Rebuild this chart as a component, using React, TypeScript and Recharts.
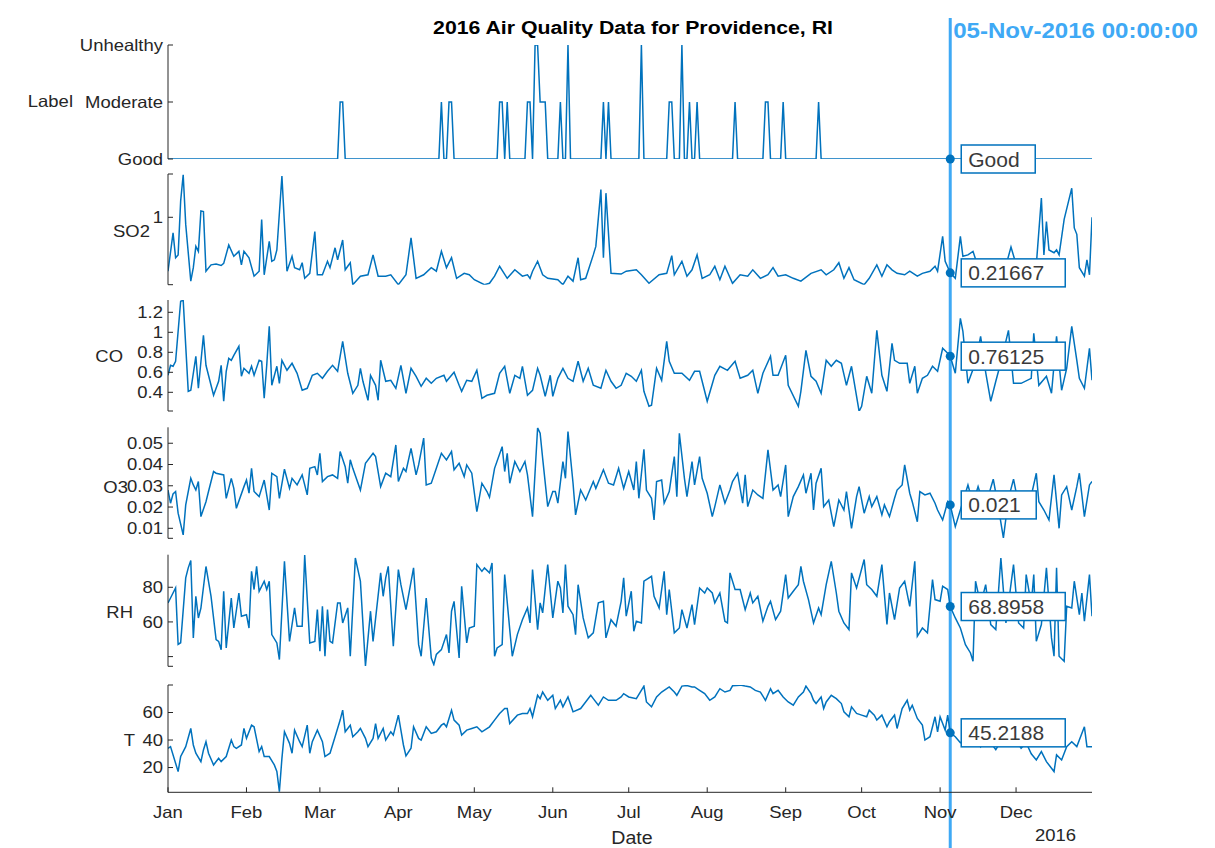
import React from 'react';
import { LineChart, Line, XAxis, YAxis, ReferenceDot, ReferenceLine } from 'recharts';

const W = 1215;
const H = 848;
const LEFT = 108;
const YW = 60;
const RIGHT = 123;
const AX = LEFT + YW;
const LINE = '#0072BD';
const AXIS = '#262626';
const CURSOR = '#3FA9F5';
const FONT = '"Liberation Sans", Arial, Helvetica, sans-serif';
const STRETCH = 1.12;

type Pt = [number, number];

const monthTicks = [0, 31, 60, 91, 121, 152, 182, 213, 244, 274, 305, 335];
const monthLabels = ['Jan', 'Feb', 'Mar', 'Apr', 'May', 'Jun', 'Jul', 'Aug', 'Sep', 'Oct', 'Nov', 'Dec'];
const cursorDay = 309;

const qualityLevels = ['Good', 'Moderate', 'Unhealthy'];
const moderateDays = [68, 69, 108, 111, 112, 131, 132, 134, 142, 143, 147, 148, 149, 155, 172, 174, 198, 199, 206, 209, 224, 236, 237, 243, 257];
const unhealthyDays = [145, 146, 158, 187, 203];

const so2Pts: Pt[] = [
  [0, 0.24], [2, 0.78], [3, 0.43], [4, 0.47], [5, 1.23], [6, 1.6], [7, 0.9], [9, 0.1], [10, 0.29], [11, 0.59], [12, 0.52],
  [13, 1.09], [14, 1.08], [15, 0.24], [17, 0.33], [19, 0.34], [21, 0.32], [22, 0.35], [24, 0.61], [26, 0.45], [28, 0.52],
  [29, 0.33], [30, 0.52], [32, 0.43], [34, 0.17], [36, 0.24], [37, 0.97], [38, 0.19], [40, 0.66], [41, 0.38], [42, 0.4],
  [43, 0.54], [45, 1.58], [47, 0.24], [49, 0.45], [50, 0.29], [52, 0.26], [53, 0.36], [54, 0.14], [56, 0.21], [58, 0.8],
  [59, 0.19], [61, 0.19], [63, 0.38], [64, 0.29], [66, 0.57], [67, 0.4], [69, 0.68], [70, 0.26], [72, 0.36], [73, 0.05],
  [76, 0.17], [79, 0.19], [81, 0.47], [83, 0.17], [86, 0.17], [88, 0.19], [91, 0.05], [94, 0.19], [96, 0.71], [98, 0.14],
  [101, 0.19], [104, 0.29], [106, 0.24], [108, 0.52], [110, 0.29], [112, 0.43], [114, 0.14], [117, 0.21], [119, 0.19],
  [121, 0.12], [125, 0.05], [127, 0.07], [129, 0.17], [131, 0.31], [134, 0.14], [137, 0.26], [140, 0.17], [142, 0.19],
  [143, 0.14], [144, 0.24], [146, 0.38], [148, 0.19], [150, 0.14], [154, 0.12], [156, 0.05], [158, 0.17], [160, 0.1],
  [162, 0.43], [163, 0.12], [165, 0.14], [168, 0.47], [169, 0.59], [171, 1.39], [172, 0.43], [173, 1.34], [175, 0.21],
  [179, 0.2], [181, 0.24], [185, 0.26], [187, 0.19], [190, 0.07], [194, 0.19], [197, 0.21], [199, 0.46], [200, 0.19],
  [203, 0.38], [205, 0.17], [207, 0.26], [209, 0.47], [211, 0.14], [214, 0.19], [216, 0.31], [218, 0.12], [220, 0.31],
  [223, 0.07], [226, 0.19], [229, 0.17], [231, 0.26], [234, 0.14], [237, 0.19], [239, 0.29], [241, 0.17], [244, 0.19],
  [247, 0.14], [250, 0.1], [254, 0.21], [258, 0.26], [260, 0.19], [263, 0.26], [265, 0.36], [267, 0.14], [269, 0.29],
  [271, 0.12], [275, 0.05], [277, 0.14], [280, 0.33], [282, 0.17], [284, 0.33], [286, 0.26], [288, 0.21], [291, 0.19],
  [293, 0.24], [296, 0.17], [298, 0.21], [301, 0.24], [303, 0.31], [304, 0.24], [306, 0.73], [307, 0.38], [309, 0.21667],
  [311, 0.14], [313, 0.73], [314, 0.45], [316, 0.47], [318, 0.52], [320, 0.3], [323, 0.35], [326, 0.28], [329, 0.38],
  [331, 0.32], [333, 0.58], [335, 0.34], [338, 0.3], [341, 0.36], [343, 0.33], [345, 1.27], [346, 0.47], [347, 0.94],
  [348, 0.54], [350, 0.5], [351, 0.54], [352, 0.47], [354, 0.97], [357, 1.41], [358, 0.85], [359, 0.76], [360, 0.29],
  [362, 0.17], [363, 0.4], [364, 0.19], [365, 1.0],
];

const coPts: Pt[] = [
  [0, 0.57], [1, 0.67], [2, 0.66], [3, 0.71], [5, 1.31], [6, 1.32], [8, 0.41], [9, 0.42], [11, 0.76], [12, 0.44], [14, 0.97],
  [15, 0.67], [17, 0.47], [18, 0.37], [20, 0.51], [21, 0.67], [22, 0.31], [23, 0.61], [24, 0.74], [25, 0.72], [26, 0.77],
  [28, 0.86], [29, 0.56], [30, 0.64], [32, 0.59], [33, 0.66], [34, 0.57], [36, 0.72], [37, 0.71], [38, 0.34], [39, 0.67],
  [40, 1.06], [41, 0.47], [43, 0.66], [44, 0.49], [45, 0.72], [47, 0.62], [49, 0.69], [51, 0.59], [53, 0.42], [55, 0.44],
  [57, 0.57], [59, 0.59], [61, 0.54], [63, 0.61], [65, 0.67], [67, 0.61], [69, 0.91], [71, 0.59], [73, 0.39], [75, 0.47],
  [76, 0.64], [77, 0.51], [79, 0.32], [80, 0.57], [82, 0.47], [83, 0.32], [84, 0.72], [86, 0.51], [88, 0.52], [90, 0.44],
  [92, 0.67], [94, 0.39], [96, 0.64], [98, 0.56], [100, 0.46], [102, 0.54], [104, 0.49], [106, 0.54], [109, 0.57],
  [110, 0.51], [113, 0.6], [115, 0.47], [116, 0.41], [118, 0.52], [120, 0.51], [122, 0.62], [124, 0.34], [126, 0.37],
  [129, 0.39], [131, 0.59], [133, 0.66], [135, 0.39], [137, 0.57], [139, 0.54], [140, 0.66], [142, 0.37], [144, 0.42],
  [146, 0.64], [147, 0.57], [149, 0.36], [151, 0.57], [152, 0.36], [154, 0.54], [156, 0.64], [158, 0.54], [160, 0.51],
  [162, 0.71], [164, 0.51], [166, 0.64], [168, 0.47], [171, 0.44], [173, 0.62], [175, 0.51], [177, 0.44], [179, 0.47],
  [181, 0.59], [183, 0.56], [185, 0.51], [187, 0.62], [188, 0.41], [190, 0.26], [191, 0.27], [193, 0.64], [195, 0.52],
  [197, 0.91], [198, 0.71], [200, 0.59], [203, 0.59], [206, 0.52], [208, 0.61], [210, 0.61], [213, 0.31], [216, 0.57],
  [218, 0.66], [221, 0.62], [224, 0.71], [226, 0.54], [229, 0.57], [231, 0.62], [233, 0.39], [235, 0.59], [238, 0.76],
  [239, 0.57], [241, 0.57], [244, 0.77], [245, 0.47], [249, 0.26], [250, 0.41], [252, 0.82], [254, 0.56], [256, 0.51],
  [258, 0.39], [260, 0.72], [262, 0.66], [264, 0.72], [266, 0.69], [268, 0.47], [270, 0.66], [273, 0.21], [274, 0.26],
  [276, 0.56], [278, 0.39], [280, 1.02], [282, 0.57], [284, 0.41], [286, 0.89], [287, 0.72], [289, 0.69], [292, 0.69],
  [293, 0.49], [295, 0.66], [296, 0.39], [298, 0.54], [300, 0.57], [302, 0.66], [304, 0.61], [306, 0.84], [308, 0.79],
  [309, 0.76125], [311, 0.59], [313, 1.14], [314, 1.01], [316, 0.49], [319, 0.7], [321, 0.96], [323, 0.6], [325, 0.31],
  [327, 0.51], [329, 0.7], [332, 1.02], [334, 0.49], [337, 0.49], [341, 0.54], [342, 0.99], [344, 0.47], [347, 0.56],
  [349, 0.39], [351, 0.96], [353, 0.42], [355, 0.64], [357, 1.06], [359, 0.72], [360, 0.54], [362, 0.44], [364, 0.84],
  [365, 0.52],
];

const o3Pts: Pt[] = [
  [0, 0.028], [1, 0.0218], [2, 0.0262], [3, 0.0273], [4, 0.0171], [6, 0.0069], [7, 0.021], [9, 0.0335], [10, 0.0304],
  [11, 0.028], [12, 0.032], [13, 0.0155], [15, 0.0225], [16, 0.0273], [18, 0.0367], [19, 0.0359], [22, 0.0351], [23, 0.0241],
  [25, 0.0335], [26, 0.0288], [27, 0.0194], [30, 0.0296], [31, 0.0327], [32, 0.0265], [33, 0.0382], [34, 0.0273], [36, 0.0249],
  [38, 0.0327], [40, 0.0186], [41, 0.0359], [43, 0.0343], [44, 0.0241], [46, 0.0378], [48, 0.0288], [49, 0.0335], [51, 0.0304],
  [53, 0.0351], [55, 0.0257], [56, 0.0382], [58, 0.039], [59, 0.0351], [60, 0.0453], [61, 0.032], [63, 0.0343], [65, 0.0351],
  [67, 0.0335], [68, 0.0461], [70, 0.039], [71, 0.0312], [72, 0.0422], [73, 0.0382], [76, 0.028], [78, 0.0406], [81, 0.0453],
  [82, 0.0437], [84, 0.0296], [86, 0.0359], [88, 0.0343], [90, 0.0492], [91, 0.032], [93, 0.0382], [94, 0.0367], [96, 0.0476],
  [98, 0.0351], [99, 0.0398], [101, 0.0524], [102, 0.0304], [104, 0.0312], [106, 0.0382], [108, 0.0453], [110, 0.0422],
  [112, 0.0461], [113, 0.0375], [115, 0.0406], [117, 0.0343], [118, 0.0398], [120, 0.0359], [122, 0.0178], [124, 0.0312],
  [126, 0.0273], [127, 0.0246], [129, 0.0382], [132, 0.0484], [133, 0.0367], [134, 0.0453], [135, 0.0312], [137, 0.0414],
  [139, 0.0367], [141, 0.0414], [142, 0.0351], [144, 0.0155], [146, 0.0572], [147, 0.0547], [148, 0.0429], [150, 0.0202],
  [152, 0.0273], [153, 0.0273], [154, 0.0218], [156, 0.0414], [157, 0.0335], [158, 0.0555], [160, 0.0312], [161, 0.0163],
  [163, 0.028], [165, 0.0233], [168, 0.032], [169, 0.0288], [172, 0.0375], [174, 0.0312], [176, 0.0304], [178, 0.0382],
  [180, 0.0288], [182, 0.0367], [184, 0.028], [185, 0.0414], [186, 0.0241], [188, 0.0472], [189, 0.028], [191, 0.0241],
  [192, 0.0139], [193, 0.032], [195, 0.0327], [196, 0.0218], [198, 0.0273], [200, 0.0437], [201, 0.0249], [202, 0.0547],
  [204, 0.0335], [205, 0.0249], [207, 0.0414], [208, 0.0304], [210, 0.0437], [211, 0.0335], [213, 0.0265], [215, 0.0155],
  [216, 0.0202], [218, 0.0304], [220, 0.0218], [222, 0.028], [223, 0.032], [225, 0.0359], [227, 0.0218], [228, 0.0351],
  [229, 0.0202], [231, 0.028], [233, 0.0257], [235, 0.0241], [237, 0.0469], [239, 0.028], [241, 0.0304], [242, 0.0249],
  [244, 0.0398], [245, 0.0155], [247, 0.0249], [249, 0.0296], [251, 0.0351], [252, 0.0265], [254, 0.0359], [255, 0.0186],
  [256, 0.0312], [258, 0.0382], [259, 0.0202], [261, 0.0233], [263, 0.0108], [265, 0.0233], [267, 0.0186], [268, 0.0273],
  [270, 0.01], [272, 0.0249], [273, 0.0296], [275, 0.0171], [277, 0.0249], [278, 0.0202], [280, 0.0249], [282, 0.0163],
  [283, 0.021], [285, 0.0155], [287, 0.0241], [288, 0.028], [290, 0.0304], [291, 0.0398], [293, 0.0265], [294, 0.0225],
  [296, 0.0131], [297, 0.0273], [299, 0.0257], [301, 0.0265], [303, 0.0218], [304, 0.0186], [306, 0.0139], [308, 0.0225],
  [309, 0.021], [311, 0.0108], [313, 0.0186], [316, 0.0304], [318, 0.0218], [320, 0.0296], [322, 0.022], [324, 0.025],
  [326, 0.0331], [328, 0.02], [330, 0.0055], [332, 0.024], [334, 0.0331], [336, 0.021], [338, 0.026], [340, 0.02],
  [343, 0.0359], [344, 0.0225], [346, 0.0186], [348, 0.0139], [350, 0.0351], [352, 0.01], [353, 0.0257], [355, 0.0296],
  [357, 0.0186], [359, 0.0296], [360, 0.0359], [362, 0.0155], [364, 0.0304], [365, 0.032],
];

const rhPts: Pt[] = [
  [0, 71], [1, 73.8], [3, 79.6], [4, 47], [5, 48], [7, 85.4], [8, 91.2], [9, 95.4], [10, 50.8], [11, 74.8], [12, 62.3],
  [13, 68], [15, 92], [17, 74.8], [19, 49.8], [20, 48.8], [21, 44], [22, 77.7], [23, 45], [25, 73.8], [26, 56.5], [28, 76.7],
  [29, 63.3], [31, 64.2], [32, 56.5], [33, 89.2], [34, 78.7], [35, 92.1], [36, 77.7], [38, 83.5], [39, 78.7], [40, 83.5],
  [41, 52.7], [43, 47.9], [44, 38.3], [46, 95], [48, 48.8], [50, 68.1], [51, 57.5], [53, 57.5], [54, 98.6], [56, 47.9],
  [58, 48.8], [59, 67.1], [60, 43.1], [61, 69], [62, 40.2], [63, 67.1], [64, 48.8], [65, 47.9], [67, 71], [68, 71],
  [69, 59.4], [71, 68.1], [72, 40.2], [74, 96.9], [76, 83.5], [78, 34.6], [80, 66.2], [81, 48.8], [84, 88.3], [85, 74.8],
  [86, 85.4], [87, 92.1], [89, 46], [91, 90.2], [92, 81.5], [94, 67.1], [97, 91.2], [99, 46.9], [100, 40.2], [102, 73.8],
  [104, 39.2], [105, 35.4], [106, 41.2], [108, 44], [110, 52.7], [111, 42.1], [112, 66.2], [113, 71.9], [115, 39.2],
  [116, 80.6], [118, 47.9], [119, 56.5], [121, 57.5], [122, 93.1], [124, 89.2], [125, 91.2], [127, 88.3], [128, 94],
  [129, 40.2], [130, 45], [132, 46.9], [133, 87.3], [135, 55.6], [136, 40.2], [138, 52.7], [140, 61.3], [142, 68.1],
  [143, 59.4], [144, 90.2], [146, 55.6], [147, 71], [148, 65.2], [150, 93.1], [152, 62.3], [154, 83.5], [155, 79.6],
  [156, 65.2], [157, 93.1], [158, 69.1], [160, 64.2], [161, 52.7], [162, 81.5], [164, 62.3], [166, 50.8], [168, 53.7],
  [170, 71], [172, 71.9], [173, 50.8], [175, 61.3], [177, 57.5], [179, 71.9], [180, 85.4], [181, 63.3], [183, 77.7],
  [184, 54.6], [185, 60.4], [187, 59.4], [188, 83.5], [191, 86.3], [192, 74.8], [194, 68.1], [196, 89.2], [197, 64.2],
  [198, 78.7], [200, 53.7], [202, 56.5], [203, 67.1], [205, 56.5], [207, 70], [208, 58.5], [210, 79.6], [212, 76.7],
  [213, 79.6], [215, 76.7], [216, 71], [218, 76.7], [220, 60.4], [221, 59.4], [222, 88.3], [224, 78.7], [226, 78.7],
  [228, 67.1], [230, 76.7], [231, 71], [233, 74.8], [235, 60.4], [237, 69], [238, 71.9], [240, 61.3], [242, 66.2],
  [244, 87.3], [245, 73.8], [247, 77.7], [249, 81.5], [250, 92.1], [251, 83.5], [253, 72.9], [255, 59.4], [257, 68.1],
  [258, 64.2], [260, 81.5], [262, 95], [264, 76.7], [265, 66.2], [267, 59.4], [269, 55.6], [270, 88.3], [272, 79.6],
  [275, 96], [276, 81.5], [278, 78.7], [280, 74.8], [282, 93.1], [284, 58.5], [285, 76.7], [287, 61.3], [289, 79.6],
  [291, 83.5], [293, 69], [295, 95], [296, 51.7], [298, 56.5], [300, 53.7], [302, 84.4], [303, 72.9], [305, 71.9],
  [306, 80.6], [308, 78.7], [309, 68.8958], [311, 62.3], [313, 56.5], [315, 46.9], [317, 42.1], [318, 37.3], [319, 83.5],
  [321, 70], [323, 81.5], [325, 58.5], [327, 55.6], [329, 96.9], [331, 59.4], [334, 93.1], [336, 59.4], [338, 56.5],
  [339, 87.3], [341, 70], [342, 87.3], [343, 48.8], [345, 58.5], [347, 91.2], [349, 50.8], [350, 40.2], [351, 91.2],
  [352, 40.2], [354, 37.3], [355, 69], [357, 68.1], [358, 83.5], [360, 64.2], [361, 76.7], [362, 60.4], [364, 87.3],
  [365, 63.3],
];

const tempPts: Pt[] = [
  [0, 34], [1, 35.2], [3, 23.1], [4, 17.1], [5, 28], [6, 31.6], [7, 35.2], [9, 48.4], [10, 36.4], [11, 30.4], [13, 24.3],
  [14, 32.8], [15, 38.8], [16, 30.4], [18, 21.9], [20, 26.7], [21, 24.3], [23, 28], [25, 40], [26, 35.2], [27, 34], [29, 36.4],
  [30, 48.4], [31, 41.2], [33, 50.8], [34, 49.6], [36, 31.6], [37, 35.2], [38, 28], [40, 28], [42, 21.9], [43, 17.1], [44, 2.5],
  [45, 26.7], [46, 46], [48, 37.6], [49, 30.4], [50, 47.2], [52, 38.8], [53, 35.2], [55, 50.8], [56, 30.4], [57, 38.8],
  [59, 47.2], [61, 38.8], [62, 28], [64, 30.4], [66, 42.4], [68, 54.5], [69, 61.7], [70, 46], [72, 50.8], [73, 42.4], [75, 46],
  [76, 48.4], [78, 41.2], [79, 35.2], [81, 41.2], [82, 52], [83, 41.2], [85, 48.4], [86, 40], [88, 46], [89, 43.6], [91, 58.1],
  [92, 47.2], [93, 36.4], [94, 28.4], [96, 34], [97, 49.6], [99, 41.2], [100, 40], [102, 49.6], [104, 44.8], [106, 46],
  [108, 50.8], [109, 52], [110, 49.6], [112, 61.7], [113, 54.5], [115, 50.8], [116, 43.6], [118, 47.2], [120, 48.4],
  [122, 49.6], [124, 46], [127, 49.6], [129, 54.5], [131, 59.3], [133, 62.9], [134, 62.9], [135, 52], [138, 58.1], [140, 59.3],
  [142, 59.3], [143, 62.9], [144, 56.9], [146, 72.5], [147, 70.1], [148, 74.9], [150, 68.9], [152, 72.5], [153, 62.9],
  [155, 68.9], [156, 64.1], [158, 71.3], [160, 60.5], [163, 62.9], [164, 65.3], [167, 72.5], [168, 70.1], [170, 65.3],
  [172, 71.3], [174, 68.9], [177, 68.9], [179, 71.3], [180, 73.7], [182, 71.3], [185, 70.1], [188, 79.2], [189, 67.7],
  [191, 64.1], [193, 71.3], [195, 74.9], [197, 77.3], [198, 78.6], [200, 74.9], [201, 72.5], [203, 79.2], [205, 79.6],
  [207, 78.6], [208, 78.6], [210, 76.1], [212, 73.7], [214, 68.9], [216, 71.3], [218, 77.3], [220, 74.9], [222, 76.1],
  [223, 79.4], [226, 79.9], [228, 79.2], [230, 78.6], [232, 76.1], [234, 74.9], [236, 68.9], [238, 77.3], [239, 73.7],
  [241, 76.1], [243, 71.3], [245, 67.7], [247, 65.3], [249, 71.3], [251, 74.9], [252, 79.2], [254, 73.7], [255, 68.9],
  [256, 66.5], [258, 71.3], [259, 62.9], [260, 67.7], [262, 72.5], [264, 70.1], [266, 66.5], [267, 60.5], [269, 56.9],
  [270, 64.1], [272, 59.3], [274, 58.1], [276, 56.9], [277, 61.7], [279, 58.1], [280, 54.5], [282, 58.1], [284, 49.6],
  [285, 53.3], [287, 58.1], [288, 48.4], [290, 62.9], [292, 68.9], [293, 61.7], [294, 65.3], [296, 55.7], [298, 50.8],
  [299, 40], [301, 42.4], [303, 56.9], [304, 46], [305, 56.9], [307, 47.2], [308, 58.1], [309, 45.2188], [311, 42.4],
  [313, 38], [315, 41], [317, 36], [319, 40], [321, 35], [323, 42], [325, 38], [327, 33], [329, 39], [331, 43], [333, 36],
  [335, 40], [337, 34], [339, 38], [341, 30], [343, 25.5], [345, 31.6], [347, 24.3], [350, 17.1], [351, 29.2], [353, 25.5],
  [355, 35.2], [357, 38.8], [359, 35.2], [362, 49.6], [363, 35.2], [364, 35.2], [365, 35.2],
];

const labelPts: Pt[] = Array.from({ length: 366 }, (_, d): Pt => [
  d,
  unhealthyDays.includes(d) ? 2 : moderateDays.includes(d) ? 1 : 0,
]);

// MATLAB-rendered text is slightly wider than Liberation Sans, so stretch it a bit
function SText(props: any) {
  const { x, y, anchor = 'start', size = 16.5, bold, color = AXIS, children, dy = '0.36em', sx = STRETCH } = props;
  return (
    <g transform={`translate(${x},${y}) scale(${sx},1)`}>
      <text x={0} y={0} dy={dy} textAnchor={anchor} fontSize={size} fontWeight={bold ? 'bold' : 'normal'} fill={color} fontFamily={FONT}>
        {children}
      </text>
    </g>
  );
}

function YTick(props: any) {
  const { y, payload, ticks, labels } = props;
  const i = ticks.indexOf(payload.value);
  const label = i >= 0 ? labels[i] : '';
  return (
    <g>
      <line x1={AX} x2={AX + 5} y1={y} y2={y} stroke={AXIS} strokeWidth={1} />
      {label ? <SText x={AX - 5} y={y} anchor="end">{label}</SText> : null}
    </g>
  );
}

function XTick(props: any) {
  const { x, payload, axisY } = props;
  const i = monthTicks.indexOf(payload.value);
  return (
    <g>
      <line x1={x} x2={x} y1={axisY} y2={axisY - 5} stroke={AXIS} strokeWidth={1} />
      <SText x={x} y={axisY + 20} anchor="middle">{monthLabels[i]}</SText>
    </g>
  );
}

function DataTip(props: any) {
  const { cx, cy, text, w } = props;
  return (
    <g>
      <circle cx={cx} cy={cy} r={4.5} fill={LINE} />
      <rect x={cx + 11} y={cy - 14} width={w} height={28} fill="#fff" stroke={LINE} strokeWidth={1.5} />
      <text x={cx + 18} y={cy} dy="0.36em" fontSize={21} fill="#3a3a3a" fontFamily={FONT}>
        {text}
      </text>
    </g>
  );
}

type PanelProps = {
  pts: Pt[];
  top: number;
  bottom: number;
  domain: [number, number];
  ticks: number[];
  labels: string[];
  tip: number;
  tipText: string;
  tipW: number;
  xAxis?: boolean;
};

function Panel({ pts, top, bottom, domain, ticks, labels, tip, tipText, tipW, xAxis }: PanelProps) {
  const data = pts.map(([d, v]) => ({ d, v }));
  const xh = xAxis ? 40 : 0;
  return (
    <div style={{ position: 'absolute', left: 0, top: 0 }}>
      <LineChart width={W} height={H} data={data} margin={{ top, right: RIGHT, bottom: H - bottom - xh, left: LEFT }}>
        <XAxis
          dataKey="d"
          type="number"
          domain={[0, 365]}
          hide={!xAxis}
          height={xh || undefined}
          ticks={monthTicks}
          interval={0}
          axisLine={{ stroke: AXIS }}
          tickLine={false}
          tick={<XTick axisY={bottom} />}
          allowDataOverflow
        />
        <YAxis
          type="number"
          domain={domain}
          ticks={ticks}
          interval={0}
          width={YW}
          axisLine={{ stroke: AXIS }}
          tickLine={false}
          tick={<YTick ticks={ticks} labels={labels} />}
          allowDataOverflow
        />
        <Line type="linear" dataKey="v" stroke={LINE} strokeWidth={1.5} dot={false} isAnimationActive={false} />
        <ReferenceDot x={cursorDay} y={tip} r={4} shape={(p: any) => <DataTip cx={p.cx} cy={p.cy} text={tipText} w={tipW} />} />
      </LineChart>
    </div>
  );
}

function Cursor() {
  const data = [{ d: 0, v: 0 }, { d: 365, v: 1 }];
  return (
    <div style={{ position: 'absolute', left: 0, top: 0 }}>
      <LineChart width={W} height={H} data={data} margin={{ top: 18, right: RIGHT, bottom: 0, left: AX }}>
        <XAxis dataKey="d" type="number" domain={[0, 365]} hide />
        <YAxis type="number" domain={[0, 1]} hide />
        <Line dataKey="v" stroke="none" dot={false} isAnimationActive={false} />
        <ReferenceLine x={cursorDay} stroke={CURSOR} strokeWidth={3} />
      </LineChart>
    </div>
  );
}

export default function App() {
  return (
    <div style={{ position: 'absolute', left: 0, top: 0, width: W, height: H, background: '#fff', overflow: 'hidden' }}>
      <Cursor />
      <Panel pts={labelPts} top={45} bottom={159} domain={[0, 2]} ticks={[0, 1, 2]} labels={qualityLevels} tip={0} tipText="Good" tipW={74} />
      <Panel pts={so2Pts} top={174} bottom={284.7} domain={[0.05, 1.61]} ticks={[0.05, 1, 1.61]} labels={['', '1', '']} tip={0.21667} tipText="0.21667" tipW={104} />
      <Panel pts={coPts} top={300} bottom={411} domain={[0.213, 1.323]} ticks={[0.213, 0.4, 0.6, 0.8, 1, 1.2]} labels={['', '0.4', '0.6', '0.8', '1', '1.2']} tip={0.76125} tipText="0.76125" tipW={104} />
      <Panel pts={o3Pts} top={427.3} bottom={538.3} domain={[0.0053, 0.0575]} ticks={[0.0053, 0.01, 0.02, 0.03, 0.04, 0.05]} labels={['', '0.01', '0.02', '0.03', '0.04', '0.05']} tip={0.021} tipText="0.021" tipW={75} />
      <Panel pts={rhPts} top={554.7} bottom={666.3} domain={[34.4, 98.8]} ticks={[34.4, 40, 60, 80]} labels={['', '', '60', '80']} tip={68.8958} tipText="68.8958" tipW={104} />
      <Panel pts={tempPts} top={685} bottom={792.3} domain={[2, 80]} ticks={[20, 40, 60, 80]} labels={['20', '40', '60', '']} tip={45.2188} tipText="45.2188" tipW={104} xAxis />
      <svg width={W} height={H} style={{ position: 'absolute', left: 0, top: 0, pointerEvents: 'none' }}>
        <SText x={633} y={27} anchor="middle" size={19} bold color="#000">2016 Air Quality Data for Providence, RI</SText>
        <SText x={1198} y={30} anchor="end" size={21.5} bold color={CURSOR}>05-Nov-2016 00:00:00</SText>
        <SText x={73} y={101} anchor="end">Label</SText>
        <SText x={150} y={231} anchor="end">SO2</SText>
        <SText x={123} y={356} anchor="end">CO</SText>
        <SText x={128} y={487} anchor="end">O3</SText>
        <SText x={133} y={612} anchor="end">RH</SText>
        <SText x={135} y={740} anchor="end">T</SText>
        <SText x={632} y={838} anchor="middle" size={17.5}>Date</SText>
        <SText x={1076} y={835} anchor="end">2016</SText>
      </svg>
    </div>
  );
}
